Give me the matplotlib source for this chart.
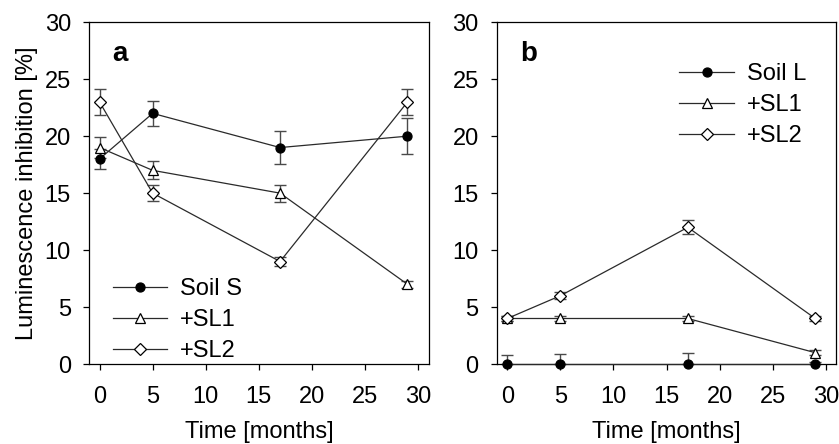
import numpy as np
import matplotlib
matplotlib.use("Agg")
import matplotlib.pyplot as plt

plt.rcParams["font.family"] = ["Liberation Sans", "DejaVu Sans"]

months = [0, 5, 17, 29]

# panel a: Soil S
soil_s = [18, 22, 19, 20]
soil_s_err = [0.9, 1.1, 1.45, 1.6]
a_sl1 = [19, 17, 15, 7]
a_sl1_err = [0.9, 0.8, 0.75, 0.3]
a_sl2 = [23, 15, 9, 23]
a_sl2_err = [1.1, 0.7, 0.4, 1.1]

# panel b: Soil L
soil_l = [0, 0, 0, 0]
soil_l_err = [0.8, 0.9, 1.0, 0.2]
b_sl1 = [4, 4, 4, 1]
b_sl1_err = [0.2, 0.2, 0.2, 0.2]
b_sl2 = [4, 6, 12, 4]
b_sl2_err = [0.2, 0.3, 0.6, 0.2]

xticks = [0, 5, 10, 15, 20, 25, 30]
yticks = [0, 5, 10, 15, 20, 25, 30]

LINE = "#2a2a2a"
ERR = "#4a4a4a"
FS = 17


def draw_series(ax, y, err, marker, face, label, lower=None):
    yerr = err if lower is None else [lower, err]
    ax.errorbar(months, y, yerr=yerr, fmt="none", ecolor=ERR, elinewidth=1.0,
                capsize=4, capthick=1.0, clip_on=False, zorder=2)
    ms = 6 if marker == "D" else 6.5
    ax.plot(months, y, color=LINE, lw=0.9, marker=marker, markersize=ms,
            markerfacecolor=face, markeredgecolor="black", markeredgewidth=0.9,
            label=label, clip_on=False, zorder=3)


def style_axes(ax, letter):
    ax.set_xlim(-1, 31)
    ax.set_ylim(0, 30)
    ax.set_xticks(xticks)
    ax.set_yticks(yticks)
    ax.tick_params(axis="both", direction="out", length=4, width=0.9,
                   labelsize=FS, colors="black")
    ax.tick_params(axis="y", pad=9)
    ax.tick_params(axis="x", pad=12)
    for s in ax.spines.values():
        s.set_linewidth(0.9)
    ax.set_xlabel("Time [months]", fontsize=FS, labelpad=9)
    ax.text(0.068, 0.945, letter, transform=ax.transAxes, fontsize=20,
            fontweight="bold", va="top", ha="left")


def add_legend(ax, loc, anchor):
    ax.legend(loc=loc, bbox_to_anchor=anchor, frameon=False, fontsize=FS,
              handlelength=2.3, handletextpad=0.55, labelspacing=0.38,
              borderpad=0, borderaxespad=0)


fig = plt.figure(figsize=(8.39, 4.44), dpi=100)
ax1 = fig.add_axes([0.106, 0.180, 0.405, 0.770])
ax2 = fig.add_axes([0.592, 0.180, 0.405, 0.770])

draw_series(ax1, soil_s, soil_s_err, "o", "black", "Soil S")
draw_series(ax1, a_sl1, a_sl1_err, "^", "white", "+SL1")
draw_series(ax1, a_sl2, a_sl2_err, "D", "white", "+SL2")
style_axes(ax1, "a")
ax1.set_ylabel("Luminescence inhibition [%]", fontsize=FS, labelpad=5)
add_legend(ax1, "lower left", (0.07, 0.005))

draw_series(ax2, soil_l, soil_l_err, "o", "black", "Soil L", lower=[0, 0, 0, 0])
draw_series(ax2, b_sl1, b_sl1_err, "^", "white", "+SL1")
draw_series(ax2, b_sl2, b_sl2_err, "D", "white", "+SL2")
style_axes(ax2, "b")
add_legend(ax2, "upper left", (0.538, 0.88))

fig.savefig("out.png", dpi=100)
